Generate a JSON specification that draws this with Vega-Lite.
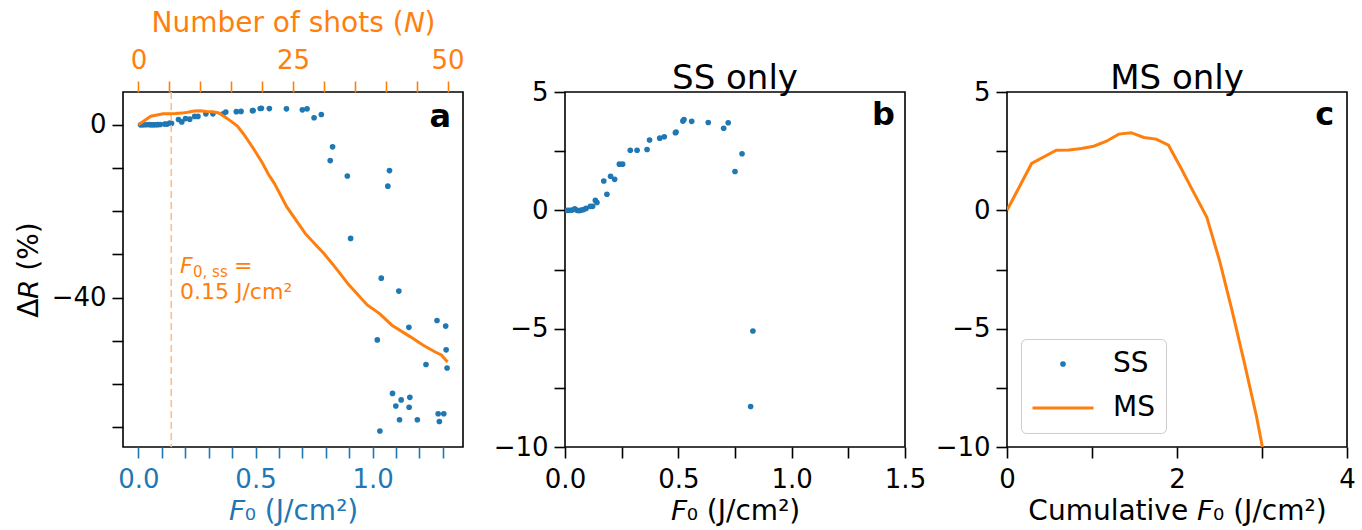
{
  "$schema": "https://vega.github.io/schema/vega-lite/v6.json",
  "padding": {"left": 14, "top": 8, "right": 0, "bottom": 0},
  "background": "white",
  "bounds": "flush",
  "spacing": 102,
  "config": {
    "font": "DejaVu Sans",
    "view": {"stroke": "black", "strokeWidth": 1.6},
    "axis": {"domain": false, "grid": false, "tickColor": "black", "tickSize": 11, "tickWidth": 1.6, "labelFont": "DejaVu Sans", "labelFontSize": 26, "labelColor": "black", "labelPadding": 6, "labelOverlap": false, "labelFlush": false, "labelBound": false, "titleFont": "DejaVu Sans", "titleFontSize": 28, "titleFontWeight": "normal", "titleColor": "black"},
    "title": {"font": "DejaVu Sans", "fontSize": 34, "fontWeight": "normal", "color": "black", "anchor": "middle", "baseline": "alphabetic", "offset": -17, "frame": "group"}
  },
  "datasets": {
    "ss": [
      {"F0": 0.009, "dR": 0.0}, {"F0": 0.019, "dR": 0.0}, {"F0": 0.031, "dR": 0.01}, {"F0": 0.043, "dR": 0.06},
      {"F0": 0.053, "dR": 0.0}, {"F0": 0.063, "dR": -0.01}, {"F0": 0.072, "dR": 0.01}, {"F0": 0.082, "dR": 0.03},
      {"F0": 0.093, "dR": 0.08}, {"F0": 0.112, "dR": 0.17}, {"F0": 0.122, "dR": 0.17}, {"F0": 0.134, "dR": 0.42},
      {"F0": 0.141, "dR": 0.33}, {"F0": 0.171, "dR": 1.24}, {"F0": 0.185, "dR": 0.68}, {"F0": 0.201, "dR": 1.44},
      {"F0": 0.219, "dR": 1.31}, {"F0": 0.240, "dR": 1.95}, {"F0": 0.254, "dR": 1.95}, {"F0": 0.288, "dR": 2.54},
      {"F0": 0.318, "dR": 2.54}, {"F0": 0.362, "dR": 2.57}, {"F0": 0.373, "dR": 2.97}, {"F0": 0.418, "dR": 3.05},
      {"F0": 0.438, "dR": 3.11}, {"F0": 0.487, "dR": 3.28}, {"F0": 0.490, "dR": 3.31}, {"F0": 0.520, "dR": 3.77},
      {"F0": 0.525, "dR": 3.84}, {"F0": 0.559, "dR": 3.76}, {"F0": 0.632, "dR": 3.71}, {"F0": 0.700, "dR": 3.47},
      {"F0": 0.720, "dR": 3.70}, {"F0": 0.750, "dR": 1.64}, {"F0": 0.781, "dR": 2.39}, {"F0": 0.829, "dR": -5.1},
      {"F0": 0.819, "dR": -8.29}, {"F0": 0.892, "dR": -11.85}, {"F0": 1.072, "dR": -10.6}, {"F0": 1.065, "dR": -14.2},
      {"F0": 0.906, "dR": -26.3}, {"F0": 1.037, "dR": -35.5}, {"F0": 1.112, "dR": -38.5}, {"F0": 1.020, "dR": -49.8},
      {"F0": 1.155, "dR": -46.9}, {"F0": 1.275, "dR": -45.3}, {"F0": 1.312, "dR": -46.6}, {"F0": 1.314, "dR": -52.1},
      {"F0": 1.228, "dR": -55.5}, {"F0": 1.318, "dR": -56.3}, {"F0": 1.085, "dR": -62.2}, {"F0": 1.122, "dR": -63.7},
      {"F0": 1.159, "dR": -63.1}, {"F0": 1.099, "dR": -65.1}, {"F0": 1.156, "dR": -65.4}, {"F0": 1.115, "dR": -68.3},
      {"F0": 1.191, "dR": -68.3}, {"F0": 1.280, "dR": -66.9}, {"F0": 1.304, "dR": -66.9}, {"F0": 1.285, "dR": -68.7},
      {"F0": 1.031, "dR": -70.9}
    ],
    "ms": [
      {"N": 0, "cum": 0.0, "dR": 0.0, "series": "MS"},
      {"N": 2, "cum": 0.29, "dR": 1.98, "series": "MS"},
      {"N": 4, "cum": 0.58, "dR": 2.54, "series": "MS"},
      {"N": 5, "cum": 0.73, "dR": 2.55, "series": "MS"},
      {"N": 6, "cum": 0.875, "dR": 2.61, "series": "MS"},
      {"N": 7, "cum": 1.02, "dR": 2.71, "series": "MS"},
      {"N": 8, "cum": 1.17, "dR": 2.92, "series": "MS"},
      {"N": 9, "cum": 1.315, "dR": 3.22, "series": "MS"},
      {"N": 10, "cum": 1.46, "dR": 3.28, "series": "MS"},
      {"N": 11, "cum": 1.61, "dR": 3.08, "series": "MS"},
      {"N": 12, "cum": 1.755, "dR": 3.01, "series": "MS"},
      {"N": 13, "cum": 1.9, "dR": 2.75, "series": "MS"},
      {"N": 14, "cum": 2.045, "dR": 1.8, "series": "MS"},
      {"N": 15, "cum": 2.19, "dR": 0.8, "series": "MS"},
      {"N": 16, "cum": 2.35, "dR": -0.28, "series": "MS"},
      {"N": 17, "cum": 2.5, "dR": -2.12, "series": "MS"},
      {"N": 18, "cum": 2.645, "dR": -4.2, "series": "MS"},
      {"N": 19, "cum": 2.79, "dR": -6.4, "series": "MS"},
      {"N": 20, "cum": 2.935, "dR": -8.7, "series": "MS"},
      {"N": 21, "cum": 3.08, "dR": -11.4, "series": "MS"},
      {"N": 22, "cum": 3.22, "dR": -13.6, "series": "MS"},
      {"N": 24, "cum": 3.51, "dR": -19.0, "series": "MS"},
      {"N": 27, "cum": 3.95, "dR": -25.2, "series": "MS"},
      {"N": 29, "cum": 4.24, "dR": -28.3, "series": "MS"},
      {"N": 30, "cum": 4.38, "dR": -29.8, "series": "MS"},
      {"N": 32, "cum": 4.67, "dR": -33.3, "series": "MS"},
      {"N": 34, "cum": 4.96, "dR": -37.0, "series": "MS"},
      {"N": 37, "cum": 5.4, "dR": -41.7, "series": "MS"},
      {"N": 39, "cum": 5.69, "dR": -43.7, "series": "MS"},
      {"N": 41, "cum": 5.99, "dR": -46.4, "series": "MS"},
      {"N": 44, "cum": 6.42, "dR": -49.1, "series": "MS"},
      {"N": 46, "cum": 6.72, "dR": -51.0, "series": "MS"},
      {"N": 48, "cum": 7.01, "dR": -52.6, "series": "MS"},
      {"N": 49, "cum": 7.15, "dR": -53.3, "series": "MS"},
      {"N": 50, "cum": 7.3, "dR": -54.9, "series": "MS"}
    ]
  },
  "hconcat": [
    {
      "width": 340,
      "height": 355,
      "layer": [
        {
          "layer": [
            {
              "data": {"name": "ss"},
              "mark": {"type": "circle", "size": 32, "color": "#1f77b4", "opacity": 1},
              "encoding": {
                "x": {"field": "F0", "type": "quantitative", "scale": {"domain": [-0.066, 1.386], "nice": false, "zero": false},
                  "axis": {"orient": "bottom", "values": [0, 0.1, 0.2, 0.3, 0.4, 0.5, 0.6, 0.7, 0.8, 0.9, 1.0, 1.1, 1.2, 1.3], "labelExpr": "abs(datum.value * 2 - round(datum.value * 2)) < 0.001 ? format(datum.value, '.1f') : ''", "tickColor": "#1f77b4", "labelColor": "#1f77b4", "titleColor": "#1f77b4", "title": "𝘍₀ (J/cm²)", "labelPadding": 8, "titlePadding": 5}},
                "y": {"field": "dR", "type": "quantitative", "scale": {"domain": [-74.6, 7.6], "nice": false, "zero": false},
                  "axis": {"values": [-70, -60, -50, -40, -30, -20, -10, 0], "labelExpr": "datum.value % 40 === 0 ? format(datum.value, 'd') : ''", "title": "Δ𝘙 (%)", "titlePadding": 8}}
              }
            },
            {
              "data": {"values": [{}]},
              "mark": {"type": "rule", "color": "#ffbf86", "strokeWidth": 1.6, "strokeDash": [7, 4]},
              "encoding": {
                "x": {"datum": 0.14, "type": "quantitative", "scale": {"domain": [-0.066, 1.386], "nice": false, "zero": false},
                  "axis": {"orient": "bottom", "values": [0, 0.1, 0.2, 0.3, 0.4, 0.5, 0.6, 0.7, 0.8, 0.9, 1.0, 1.1, 1.2, 1.3], "labelExpr": "abs(datum.value * 2 - round(datum.value * 2)) < 0.001 ? format(datum.value, '.1f') : ''", "tickColor": "#1f77b4", "labelColor": "#1f77b4", "titleColor": "#1f77b4", "title": "𝘍₀ (J/cm²)", "labelPadding": 8, "titlePadding": 5}}
              }
            },
            {
              "data": {"values": [{}]},
              "mark": {"type": "text", "text": "F", "fontStyle": "italic", "fontSize": 22, "color": "#ff7f0e", "align": "left", "baseline": "alphabetic"},
              "encoding": {
                "x": {"datum": 0.1774, "type": "quantitative", "scale": {"domain": [-0.066, 1.386], "nice": false, "zero": false},
                  "axis": {"orient": "bottom", "values": [0, 0.1, 0.2, 0.3, 0.4, 0.5, 0.6, 0.7, 0.8, 0.9, 1.0, 1.1, 1.2, 1.3], "labelExpr": "abs(datum.value * 2 - round(datum.value * 2)) < 0.001 ? format(datum.value, '.1f') : ''", "tickColor": "#1f77b4", "labelColor": "#1f77b4", "titleColor": "#1f77b4", "title": "𝘍₀ (J/cm²)", "labelPadding": 8, "titlePadding": 5}},
                "y": {"datum": -34.4, "type": "quantitative", "scale": {"domain": [-74.6, 7.6], "nice": false, "zero": false},
                  "axis": {"values": [-70, -60, -50, -40, -30, -20, -10, 0], "labelExpr": "datum.value % 40 === 0 ? format(datum.value, 'd') : ''", "title": "Δ𝘙 (%)", "titlePadding": 8}}
              }
            },
            {
              "data": {"values": [{}]},
              "mark": {"type": "text", "text": "0, ss", "fontSize": 15, "color": "#ff7f0e", "align": "left", "baseline": "alphabetic", "dx": 13, "dy": 4},
              "encoding": {
                "x": {"datum": 0.1774, "type": "quantitative", "scale": {"domain": [-0.066, 1.386], "nice": false, "zero": false},
                  "axis": {"orient": "bottom", "values": [0, 0.1, 0.2, 0.3, 0.4, 0.5, 0.6, 0.7, 0.8, 0.9, 1.0, 1.1, 1.2, 1.3], "labelExpr": "abs(datum.value * 2 - round(datum.value * 2)) < 0.001 ? format(datum.value, '.1f') : ''", "tickColor": "#1f77b4", "labelColor": "#1f77b4", "titleColor": "#1f77b4", "title": "𝘍₀ (J/cm²)", "labelPadding": 8, "titlePadding": 5}},
                "y": {"datum": -34.4, "type": "quantitative", "scale": {"domain": [-74.6, 7.6], "nice": false, "zero": false},
                  "axis": {"values": [-70, -60, -50, -40, -30, -20, -10, 0], "labelExpr": "datum.value % 40 === 0 ? format(datum.value, 'd') : ''", "title": "Δ𝘙 (%)", "titlePadding": 8}}
              }
            },
            {
              "data": {"values": [{}]},
              "mark": {"type": "text", "text": "=", "fontSize": 22, "color": "#ff7f0e", "align": "left", "baseline": "alphabetic", "dx": 54},
              "encoding": {
                "x": {"datum": 0.1774, "type": "quantitative", "scale": {"domain": [-0.066, 1.386], "nice": false, "zero": false},
                  "axis": {"orient": "bottom", "values": [0, 0.1, 0.2, 0.3, 0.4, 0.5, 0.6, 0.7, 0.8, 0.9, 1.0, 1.1, 1.2, 1.3], "labelExpr": "abs(datum.value * 2 - round(datum.value * 2)) < 0.001 ? format(datum.value, '.1f') : ''", "tickColor": "#1f77b4", "labelColor": "#1f77b4", "titleColor": "#1f77b4", "title": "𝘍₀ (J/cm²)", "labelPadding": 8, "titlePadding": 5}},
                "y": {"datum": -34.4, "type": "quantitative", "scale": {"domain": [-74.6, 7.6], "nice": false, "zero": false},
                  "axis": {"values": [-70, -60, -50, -40, -30, -20, -10, 0], "labelExpr": "datum.value % 40 === 0 ? format(datum.value, 'd') : ''", "title": "Δ𝘙 (%)", "titlePadding": 8}}
              }
            },
            {
              "data": {"values": [{}]},
              "mark": {"type": "text", "text": "0.15 J/cm²", "fontSize": 22, "color": "#ff7f0e", "align": "left", "baseline": "alphabetic"},
              "encoding": {
                "x": {"datum": 0.1774, "type": "quantitative", "scale": {"domain": [-0.066, 1.386], "nice": false, "zero": false},
                  "axis": {"orient": "bottom", "values": [0, 0.1, 0.2, 0.3, 0.4, 0.5, 0.6, 0.7, 0.8, 0.9, 1.0, 1.1, 1.2, 1.3], "labelExpr": "abs(datum.value * 2 - round(datum.value * 2)) < 0.001 ? format(datum.value, '.1f') : ''", "tickColor": "#1f77b4", "labelColor": "#1f77b4", "titleColor": "#1f77b4", "title": "𝘍₀ (J/cm²)", "labelPadding": 8, "titlePadding": 5}},
                "y": {"datum": -40.3, "type": "quantitative", "scale": {"domain": [-74.6, 7.6], "nice": false, "zero": false},
                  "axis": {"values": [-70, -60, -50, -40, -30, -20, -10, 0], "labelExpr": "datum.value % 40 === 0 ? format(datum.value, 'd') : ''", "title": "Δ𝘙 (%)", "titlePadding": 8}}
              }
            },
            {
              "data": {"values": [{}]},
              "mark": {"type": "text", "text": "a", "fontSize": 32, "fontWeight": "bold", "color": "black", "align": "right", "baseline": "alphabetic"},
              "encoding": {
                "x": {"datum": 1.335, "type": "quantitative", "scale": {"domain": [-0.066, 1.386], "nice": false, "zero": false},
                  "axis": {"orient": "bottom", "values": [0, 0.1, 0.2, 0.3, 0.4, 0.5, 0.6, 0.7, 0.8, 0.9, 1.0, 1.1, 1.2, 1.3], "labelExpr": "abs(datum.value * 2 - round(datum.value * 2)) < 0.001 ? format(datum.value, '.1f') : ''", "tickColor": "#1f77b4", "labelColor": "#1f77b4", "titleColor": "#1f77b4", "title": "𝘍₀ (J/cm²)", "labelPadding": 8, "titlePadding": 5}},
                "y": {"datum": -0.6, "type": "quantitative", "scale": {"domain": [-74.6, 7.6], "nice": false, "zero": false},
                  "axis": {"values": [-70, -60, -50, -40, -30, -20, -10, 0], "labelExpr": "datum.value % 40 === 0 ? format(datum.value, 'd') : ''", "title": "Δ𝘙 (%)", "titlePadding": 8}}
              }
            }
          ]
        },
        {
          "data": {"name": "ms"},
          "mark": {"type": "line", "color": "#ff7f0e", "strokeWidth": 3},
          "encoding": {
            "x": {"field": "N", "type": "quantitative", "scale": {"domain": [-2.5, 52.5], "nice": false, "zero": false},
              "axis": {"orient": "top", "values": [0, 5, 10, 15, 20, 25, 30, 35, 40, 45, 50], "labelExpr": "datum.value % 25 === 0 ? format(datum.value, 'd') : ''", "tickColor": "#ff7f0e", "labelColor": "#ff7f0e", "titleColor": "#ff7f0e", "title": "Number of shots (𝘕)", "labelPadding": 8, "titlePadding": 10}},
            "y": {"field": "dR", "type": "quantitative", "scale": {"domain": [-74.6, 7.6], "nice": false, "zero": false},
              "axis": {"values": [-70, -60, -50, -40, -30, -20, -10, 0], "labelExpr": "datum.value % 40 === 0 ? format(datum.value, 'd') : ''", "title": "Δ𝘙 (%)", "titlePadding": 8}}
          }
        }
      ],
      "resolve": {"scale": {"x": "independent"}, "axis": {"x": "independent"}}
    },
    {
      "width": 340,
      "height": 355,
      "title": "SS only",
      "layer": [
        {
          "data": {"name": "ss"},
          "mark": {"type": "circle", "size": 32, "color": "#1f77b4", "opacity": 1, "clip": true},
          "encoding": {
            "x": {"field": "F0", "type": "quantitative", "scale": {"domain": [0, 1.5], "nice": false, "zero": false},
              "axis": {"values": [0, 0.25, 0.5, 0.75, 1.0, 1.25, 1.5], "labelExpr": "abs(datum.value * 2 - round(datum.value * 2)) < 0.001 ? format(datum.value, '.1f') : ''", "title": "𝘍₀ (J/cm²)", "labelPadding": 8, "titlePadding": 5}},
            "y": {"field": "dR", "type": "quantitative", "scale": {"domain": [-10, 5], "nice": false, "zero": false},
              "axis": {"values": [-10, -7.5, -5, -2.5, 0, 2.5, 5], "labelExpr": "datum.value % 5 === 0 ? format(datum.value, 'd') : ''", "title": null}}
          }
        },
        {
          "data": {"values": [{}]},
          "mark": {"type": "text", "text": "b", "fontSize": 32, "fontWeight": "bold", "color": "black", "align": "right", "baseline": "alphabetic"},
          "encoding": {
            "x": {"datum": 1.456, "type": "quantitative", "scale": {"domain": [0, 1.5], "nice": false, "zero": false},
              "axis": {"values": [0, 0.25, 0.5, 0.75, 1.0, 1.25, 1.5], "labelExpr": "abs(datum.value * 2 - round(datum.value * 2)) < 0.001 ? format(datum.value, '.1f') : ''", "title": "𝘍₀ (J/cm²)", "labelPadding": 8, "titlePadding": 5}},
            "y": {"datum": 3.6, "type": "quantitative", "scale": {"domain": [-10, 5], "nice": false, "zero": false},
              "axis": {"values": [-10, -7.5, -5, -2.5, 0, 2.5, 5], "labelExpr": "datum.value % 5 === 0 ? format(datum.value, 'd') : ''", "title": null}}
          }
        }
      ]
    },
    {
      "width": 340,
      "height": 355,
      "title": "MS only",
      "layer": [
        {
          "data": {"name": "ms"},
          "mark": {"type": "line", "strokeWidth": 3, "clip": true},
          "encoding": {
            "x": {"field": "cum", "type": "quantitative", "scale": {"domain": [0, 4], "nice": false, "zero": false},
              "axis": {"values": [0, 1, 2, 3, 4], "labelExpr": "datum.value % 2 === 0 ? format(datum.value, 'd') : ''", "title": "Cumulative 𝘍₀ (J/cm²)", "labelPadding": 8, "titlePadding": 5}},
            "y": {"field": "dR", "type": "quantitative", "scale": {"domain": [-10, 5], "nice": false, "zero": false},
              "axis": {"values": [-10, -7.5, -5, -2.5, 0, 2.5, 5], "labelExpr": "datum.value % 5 === 0 ? format(datum.value, 'd') : ''", "title": null}},
            "color": {"field": "series", "type": "nominal", "scale": {"domain": ["SS", "MS"], "range": ["#1f77b4", "#ff7f0e"]},
              "legend": {"title": null, "orient": "bottom-left", "offset": 14, "labelFontSize": 28, "labelFont": "DejaVu Sans", "labelColor": "black",
                "symbolType": "stroke", "symbolSize": 3721, "symbolStrokeWidth": 3, "symbolOffset": 17, "rowPadding": 16, "labelOffset": 36, "padding": 11,
                "strokeColor": "#cccccc", "fillColor": "rgba(255,255,255,0.8)", "cornerRadius": 5,
                "encode": {"symbols": {"update": {
                  "shape": {"signal": "datum.value === 'SS' ? 'circle' : 'stroke'"},
                  "size": {"signal": "datum.value === 'SS' ? 32 : 3721"},
                  "fill": {"signal": "datum.value === 'SS' ? '#1f77b4' : 'transparent'"},
                  "stroke": {"signal": "datum.value === 'SS' ? 'transparent' : '#ff7f0e'"},
                  "strokeWidth": {"signal": "datum.value === 'SS' ? 0 : 3"}
                }}}}}
          }
        },
        {
          "data": {"values": [{}]},
          "mark": {"type": "text", "text": "c", "fontSize": 32, "fontWeight": "bold", "color": "black", "align": "right", "baseline": "alphabetic"},
          "encoding": {
            "x": {"datum": 3.85, "type": "quantitative", "scale": {"domain": [0, 4], "nice": false, "zero": false},
              "axis": {"values": [0, 1, 2, 3, 4], "labelExpr": "datum.value % 2 === 0 ? format(datum.value, 'd') : ''", "title": "Cumulative 𝘍₀ (J/cm²)", "labelPadding": 8, "titlePadding": 5}},
            "y": {"datum": 3.6, "type": "quantitative", "scale": {"domain": [-10, 5], "nice": false, "zero": false},
              "axis": {"values": [-10, -7.5, -5, -2.5, 0, 2.5, 5], "labelExpr": "datum.value % 5 === 0 ? format(datum.value, 'd') : ''", "title": null}}
          }
        }
      ]
    }
  ],
  "resolve": {"scale": {"color": "independent"}, "legend": {"color": "independent"}}
}
